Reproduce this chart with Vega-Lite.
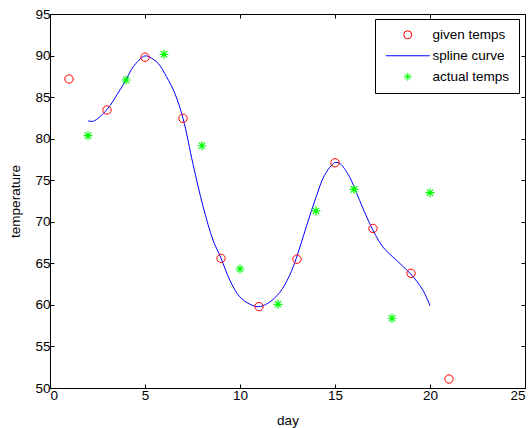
{
  "$schema": "https://vega.github.io/schema/vega-lite/v6.json",
  "autosize": "none",
  "width": 475,
  "height": 374,
  "padding": {"left": 50, "top": 14, "right": 5, "bottom": 40},
  "background": "white",
  "config": {
    "view": {"stroke": "black", "strokeWidth": 1},
    "font": "Liberation Sans",
    "axis": {
      "grid": false,
      "domainColor": "black",
      "tickColor": "black",
      "tickSize": -4,
      "labelColor": "black",
      "titleColor": "black",
      "labelFont": "Liberation Sans",
      "titleFont": "Liberation Sans",
      "labelFontSize": 13.5,
      "titleFontSize": 13.5,
      "titleFontWeight": "normal"
    }
  },
  "datasets": {
    "given": [
      {"day": 1, "temp": 87.18, "series": "given temps"},
      {"day": 3, "temp": 83.45, "series": "given temps"},
      {"day": 5, "temp": 89.8, "series": "given temps"},
      {"day": 7, "temp": 82.45, "series": "given temps"},
      {"day": 9, "temp": 65.6, "series": "given temps"},
      {"day": 11, "temp": 59.8, "series": "given temps"},
      {"day": 13, "temp": 65.5, "series": "given temps"},
      {"day": 15, "temp": 77.1, "series": "given temps"},
      {"day": 17, "temp": 69.2, "series": "given temps"},
      {"day": 19, "temp": 63.8, "series": "given temps"},
      {"day": 21, "temp": 51.08, "series": "given temps"}
    ],
    "actual": [
      {"day": 2, "temp": 80.36, "series": "actual temps"},
      {"day": 4, "temp": 87.06, "series": "actual temps"},
      {"day": 6, "temp": 90.15, "series": "actual temps"},
      {"day": 8, "temp": 79.15, "series": "actual temps"},
      {"day": 10, "temp": 64.32, "series": "actual temps"},
      {"day": 12, "temp": 60.07, "series": "actual temps"},
      {"day": 14, "temp": 71.3, "series": "actual temps"},
      {"day": 16, "temp": 73.9, "series": "actual temps"},
      {"day": 18, "temp": 58.39, "series": "actual temps"},
      {"day": 20, "temp": 73.5, "series": "actual temps"}
    ],
    "spline": [
      {"day": 2.0, "temp": 82.15, "series": "spline curve"},
      {"day": 2.28, "temp": 82.1, "series": "spline curve"},
      {"day": 2.98, "temp": 83.45, "series": "spline curve"},
      {"day": 3.68, "temp": 85.86, "series": "spline curve"},
      {"day": 4.03, "temp": 87.2, "series": "spline curve"},
      {"day": 4.38, "temp": 88.66, "series": "spline curve"},
      {"day": 4.99, "temp": 89.95, "series": "spline curve"},
      {"day": 5.25, "temp": 89.8, "series": "spline curve"},
      {"day": 5.69, "temp": 89.07, "series": "spline curve"},
      {"day": 6.13, "temp": 87.46, "series": "spline curve"},
      {"day": 6.57, "temp": 85.45, "series": "spline curve"},
      {"day": 7.0, "temp": 82.45, "series": "spline curve"},
      {"day": 7.53, "temp": 76.9, "series": "spline curve"},
      {"day": 8.06, "temp": 71.81, "series": "spline curve"},
      {"day": 8.58, "temp": 67.8, "series": "spline curve"},
      {"day": 8.99, "temp": 65.68, "series": "spline curve"},
      {"day": 9.46, "temp": 63.0, "series": "spline curve"},
      {"day": 9.98, "temp": 60.98, "series": "spline curve"},
      {"day": 10.51, "temp": 60.1, "series": "spline curve"},
      {"day": 10.95, "temp": 59.78, "series": "spline curve"},
      {"day": 11.47, "temp": 60.19, "series": "spline curve"},
      {"day": 12.09, "temp": 61.5, "series": "spline curve"},
      {"day": 12.6, "temp": 63.5, "series": "spline curve"},
      {"day": 12.96, "temp": 65.6, "series": "spline curve"},
      {"day": 13.49, "temp": 69.4, "series": "spline curve"},
      {"day": 14.01, "temp": 73.0, "series": "spline curve"},
      {"day": 14.45, "temp": 75.6, "series": "spline curve"},
      {"day": 14.98, "temp": 77.1, "series": "spline curve"},
      {"day": 15.24, "temp": 77.03, "series": "spline curve"},
      {"day": 15.76, "temp": 75.42, "series": "spline curve"},
      {"day": 16.29, "temp": 72.6, "series": "spline curve"},
      {"day": 16.82, "temp": 69.82, "series": "spline curve"},
      {"day": 17.51, "temp": 67.0, "series": "spline curve"},
      {"day": 18.22, "temp": 65.4, "series": "spline curve"},
      {"day": 18.99, "temp": 63.7, "series": "spline curve"},
      {"day": 19.62, "temp": 61.8, "series": "spline curve"},
      {"day": 20.0, "temp": 59.9, "series": "spline curve"}
    ]
  },
  "resolve": {"axis": {"x": "independent", "y": "independent"}},
  "layer": [
    {
      "data": {"name": "spline"},
      "mark": {"type": "line", "strokeWidth": 1, "interpolate": "catmull-rom", "clip": true},
      "encoding": {
        "x": {"field": "day", "type": "quantitative",
              "scale": {"domain": [0, 25], "nice": false, "zero": false},
              "axis": {"orient": "top", "labels": false, "title": null, "domain": false, "values": [0,5,10,15,20,25]}},
        "y": {"field": "temp", "type": "quantitative",
              "scale": {"domain": [50, 95], "nice": false, "zero": false},
              "axis": {"orient": "right", "labels": false, "title": null, "domain": false, "values": [50,55,60,65,70,75,80,85,90,95]}},
        "color": {"field": "series", "type": "nominal"}
      }
    },
    {
      "data": {"name": "given"},
      "mark": {"type": "point", "filled": false, "strokeWidth": 1, "size": 70, "clip": true, "opacity": 1},
      "encoding": {
        "x": {"field": "day", "type": "quantitative",
              "axis": {"orient": "bottom", "title": "day", "values": [0,5,10,15,20,25], "labelPadding": 4, "titlePadding": 12}},
        "y": {"field": "temp", "type": "quantitative",
              "axis": {"orient": "left", "title": "temperature", "values": [50,55,60,65,70,75,80,85,90,95], "labelPadding": 4, "titlePadding": 12}},
        "color": {"field": "series", "type": "nominal",
                  "scale": {"domain": ["given temps", "spline curve", "actual temps"], "range": ["#ff0000", "#0000ff", "#00ff00"]},
                  "legend": {"title": null, "orient": "none", "legendX": 325, "legendY": 5,
                             "strokeColor": "black", "fillColor": "white", "padding": 9,
                             "symbolSize": 64, "symbolOffset": 17,
                             "labelFont": "Liberation Sans", "labelFontSize": 13.5, "labelColor": "black",
                             "symbolStrokeWidth": 1, "rowPadding": 6, "labelOffset": 18}},
        "shape": {"field": "series", "type": "nominal",
                  "scale": {"domain": ["given temps", "spline curve", "actual temps"],
                            "range": ["circle", "M-5.5,0L5.5,0", "M-1,0L1,0M0,-1L0,1M-0.7,-0.7L0.7,0.7M-0.7,0.7L0.7,-0.7"]},
                  "legend": {"title": null}}
      }
    },
    {
      "data": {"name": "actual"},
      "mark": {"type": "point", "filled": false, "strokeWidth": 1.2, "size": 80, "clip": true, "opacity": 1},
      "encoding": {
        "x": {"field": "day", "type": "quantitative", "axis": null},
        "y": {"field": "temp", "type": "quantitative", "axis": null},
        "color": {"field": "series", "type": "nominal"},
        "shape": {"field": "series", "type": "nominal"}
      }
    }
  ]
}
